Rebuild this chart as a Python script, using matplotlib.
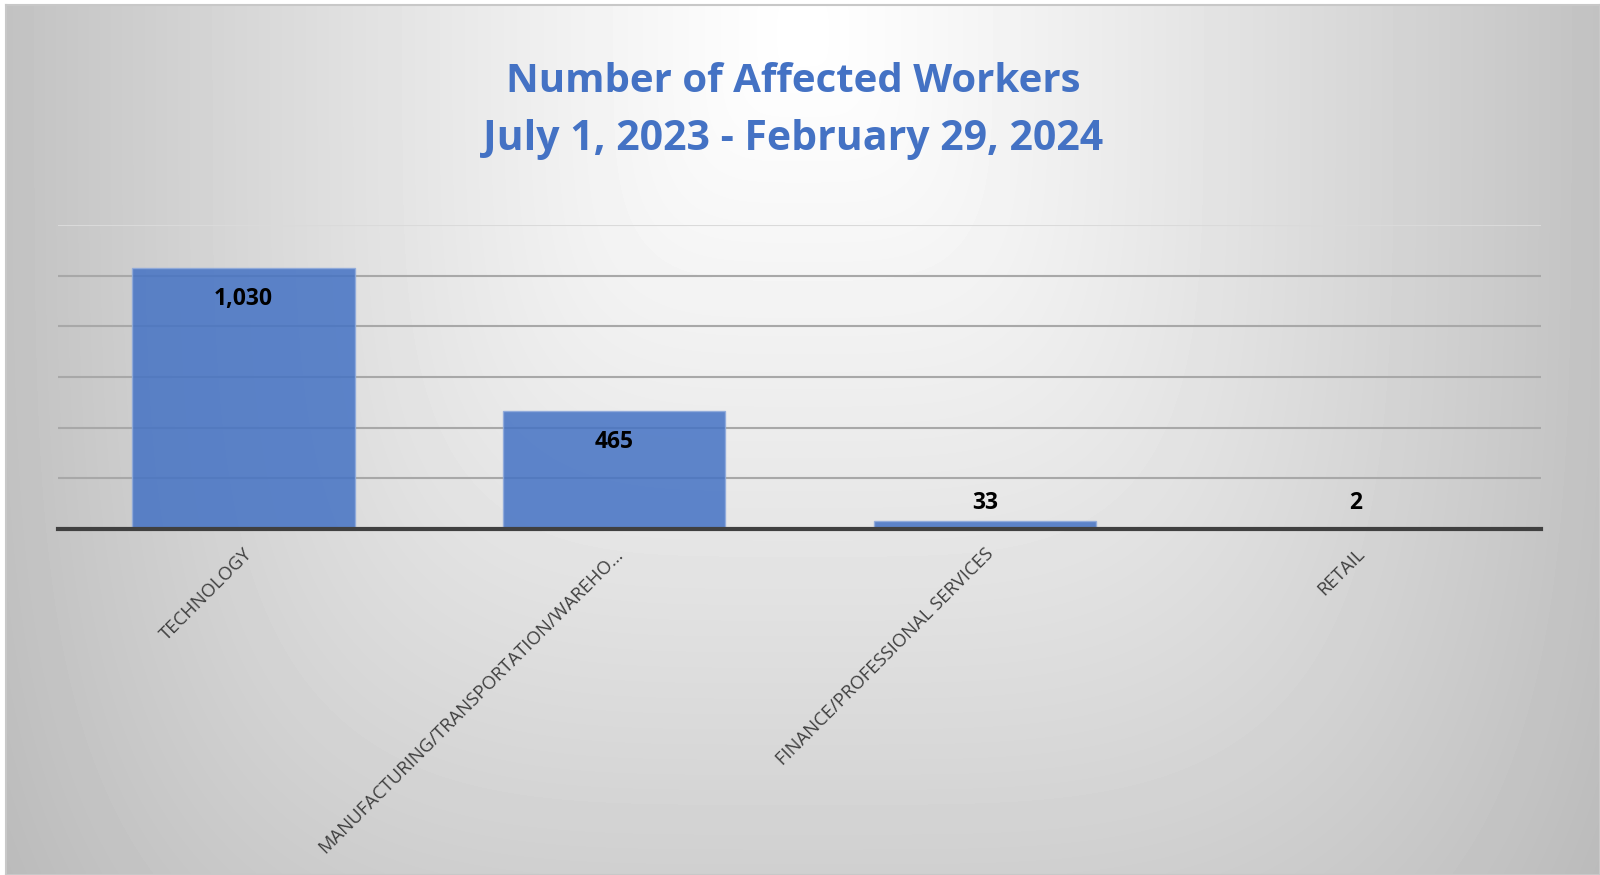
import numpy as np
import matplotlib.pyplot as plt

categories = ["TECHNOLOGY", "MANUFACTURING/TRANSPORTATION/WAREHO\u2026",
              "FINANCE/PROFESSIONAL SERVICES", "RETAIL"]
workers = [1030, 465, 33, 2]
y_ticks = [0, 200, 400, 600, 800, 1000, 1200]
title_lines = ["Number of Affected Workers", "July 1, 2023 - February 29, 2024"]

fig = plt.figure(figsize=(16, 8.75), dpi=100)

# grey background fading to white towards the top centre
bg = fig.add_axes([6 / 1600, 0, 1 - 6 / 1600, 1 - 5 / 875])
xx, yy = np.meshgrid(np.linspace(0, 1, 400), np.linspace(0, 1, 220))
u = np.abs(xx - 0.5) / 0.5
v = np.abs(yy - 0.97) / 1.2
d = (u ** 4 + v ** 4) ** 0.25
shade = 1.0 - 0.24 * d ** 1.2
bg.imshow(shade, cmap="gray", vmin=0, vmax=1, origin="lower",
          extent=[0, 1, 0, 1], aspect="auto", interpolation="bilinear")
bg.set_xlim(0, 1)
bg.set_ylim(0, 1)
bg.set_xticks([])
bg.set_yticks([])
for s in bg.spines.values():
    s.set_color("#c8c8c8")
    s.set_linewidth(1.5)

ax = fig.add_axes([58 / 1600, 1 - 529 / 875, (1541 - 58) / 1600, (529 - 225) / 875])
ax.patch.set_alpha(0)
x = np.arange(len(categories))
bars = ax.bar(x, workers, width=0.6, color="#4472C4", alpha=0.85,
              edgecolor="#8faadc", linewidth=1, zorder=2)
ax.set_xlim(-0.5, len(categories) - 0.5)
ax.set_ylim(0, 1200)
ax.set_yticks(y_ticks)
ax.yaxis.grid(True, color="#a8a8a8", linewidth=1.5, zorder=0)
ax.set_axisbelow(True)
ax.get_ygridlines()[-1].set_color("#dadada")
ax.tick_params(axis="y", left=False, labelleft=False)
ax.tick_params(axis="x", bottom=False, pad=8)
for side in ["top", "right", "left"]:
    ax.spines[side].set_visible(False)
ax.spines["bottom"].set_color("#404040")
ax.spines["bottom"].set_linewidth(3)
ax.spines["bottom"].set_zorder(3)

ax.set_xticks(x)
ax.set_xticklabels(categories, rotation=45, ha="right", va="top",
                   rotation_mode="anchor", fontsize=13.3, color="#404040",
                   family="Open Sans")

for xi, v in zip(x, workers):
    if v > 200:
        ax.annotate(f"{v:,}", (xi, v), xytext=(0, -22), textcoords="offset points",
                    ha="center", va="center", fontsize=16.5, fontweight="bold",
                    family="Open Sans", color="black", zorder=4)
    else:
        ax.annotate(f"{v:,}", (xi, 0), xytext=(0, 19), textcoords="offset points",
                    ha="center", va="center", fontsize=16.5, fontweight="bold",
                    family="Open Sans", color="black", zorder=4)

fig.text(0.4955, 1 - 82 / 875, title_lines[0], ha="center", va="center",
         fontsize=29, fontweight="bold", family="Open Sans", color="#4472C4")
fig.text(0.4955, 1 - 139 / 875, title_lines[1], ha="center", va="center",
         fontsize=29.5, fontweight="bold", family="Open Sans", color="#4472C4")

fig.savefig("out.png", dpi=100)
